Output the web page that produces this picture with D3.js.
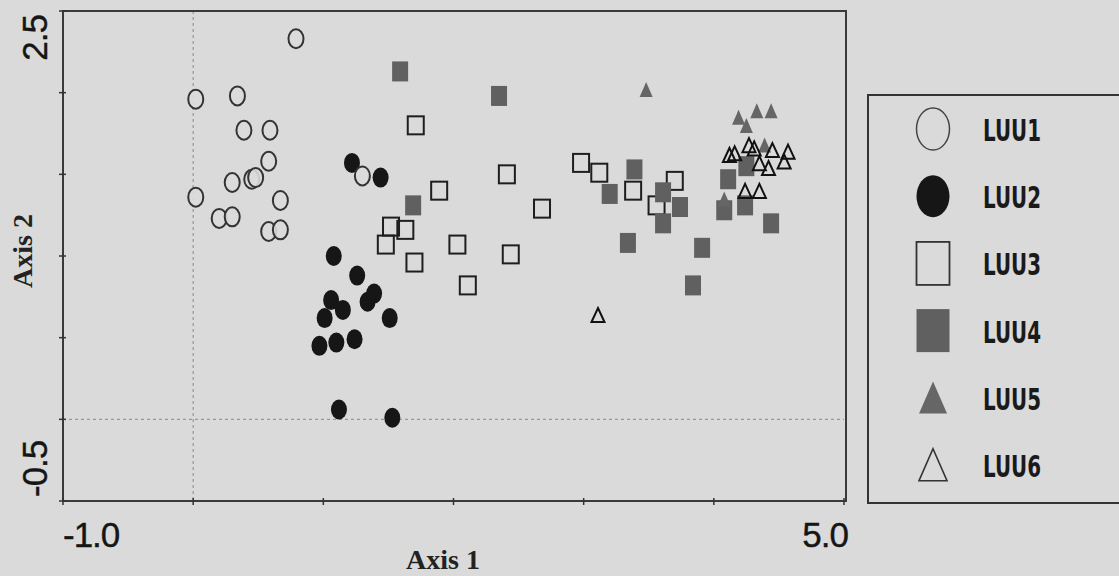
<!DOCTYPE html>
<html>
<head>
<meta charset="utf-8">
<script src="https://cdn.jsdelivr.net/npm/d3@7"></script>
<style>
  body { margin: 0; background: #dadada; }
  svg { display: block; }
</style>
</head>
<body>
<script>
// ordination scores, [axis1, axis2]
var luu1 = [[0.79,2.33],[0.02,1.96],[0.34,1.98],[0.39,1.77],[0.59,1.77],[0.58,1.58],
            [0.45,1.47],[0.48,1.48],[0.30,1.45],[0.02,1.36],[0.20,1.23],[0.30,1.24],
            [0.67,1.34],[0.58,1.15],[0.67,1.16],[1.30,1.49]];
var luu2 = [[1.22,1.57],[1.44,1.48],[1.08,1.00],[1.26,0.88],[1.06,0.73],[1.15,0.67],
            [1.01,0.62],[1.34,0.72],[1.39,0.77],[1.51,0.62],[0.97,0.45],[1.10,0.47],
            [1.24,0.49],[1.12,0.06],[1.53,0.01]];
var luu3 = [[1.89,1.40],[1.52,1.18],[1.63,1.16],[1.48,1.07],[1.70,0.96],[1.71,1.80],
            [2.41,1.50],[2.68,1.29],[2.03,1.07],[2.44,1.01],[2.11,0.82],[2.98,1.57],
            [3.12,1.51],[3.38,1.40],[3.70,1.46],[3.56,1.31]];
var luu4 = [[1.59,2.13],[2.35,1.98],[1.69,1.31],[3.39,1.53],[3.20,1.38],[3.61,1.39],
            [3.74,1.30],[3.61,1.20],[3.34,1.08],[3.91,1.05],[3.84,0.82],[4.11,1.47],
            [4.25,1.55],[4.08,1.28],[4.24,1.31],[4.44,1.20]];
var luu5 = [[3.48,2.01],[4.19,1.84],[4.33,1.88],[4.44,1.88],[4.25,1.79],[4.39,1.67],
            [4.08,1.34]];
var luu6 = [[4.12,1.61],[4.16,1.62],[4.27,1.67],[4.31,1.65],[4.45,1.64],[4.57,1.63],
            [4.54,1.57],[4.35,1.56],[4.42,1.53],[4.24,1.39],[4.35,1.39],[3.11,0.63]];

var groupNames = ["LUU1", "LUU2", "LUU3", "LUU4", "LUU5", "LUU6"];
var xTicks = [-1, 0, 1, 2, 3, 4, 5];
var yTicks = [-0.5, 0, 0.5, 1, 1.5, 2, 2.5];
var xTickLabels = ["-1.0", "5.0"];
var yTickLabels = ["-0.5", "2.5"];

var width = 1119, height = 576;
var bg = "#dadada";

var svg = d3.select("body").append("svg")
    .attr("width", width)
    .attr("height", height);

svg.append("rect")
    .attr("width", width).attr("height", height)
    .attr("fill", bg);

var x = d3.scaleLinear().domain([-1, 5]).range([63, 844]);
var y = d3.scaleLinear().domain([-0.5, 2.5]).range([501, 11]);

/*
 * reference lines at zero
 */
svg.append("line")
    .attr("x1", x(0)).attr("x2", x(0))
    .attr("y1", y(2.5)).attr("y2", y(-0.5))
    .style("stroke", "#8a8a8a").style("stroke-width", 1)
    .style("stroke-dasharray", "3,3");
svg.append("line")
    .attr("x1", x(-1)).attr("x2", x(5))
    .attr("y1", y(0)).attr("y2", y(0))
    .style("stroke", "#8a8a8a").style("stroke-width", 1)
    .style("stroke-dasharray", "3,3");

// frame
svg.append("rect")
    .attr("x", x(-1)).attr("y", y(2.5))
    .attr("width", x(5) - x(-1) + 2).attr("height", y(-0.5) - y(2.5))
    .attr("fill", "none")
    .style("stroke", "#3a3a3a").style("stroke-width", 2);

// small cross ticks
svg.selectAll("line.xtick")
    .data(xTicks)
  .enter().append("line")
    .classed("xtick", true)
    .attr("x1", function(d){ return x(d); })
    .attr("x2", function(d){ return x(d); })
    .attr("y1", y(-0.5) - 3).attr("y2", y(-0.5) + 4)
    .style("stroke", "#333").style("stroke-width", 1.5);
svg.selectAll("line.ytick")
    .data(yTicks)
  .enter().append("line")
    .classed("ytick", true)
    .attr("x1", x(-1) - 4).attr("x2", x(-1) + 3)
    .attr("y1", function(d){ return y(d); })
    .attr("y2", function(d){ return y(d); })
    .style("stroke", "#333").style("stroke-width", 1.5);

/*
 * tick labels and titles
 */
var tickFont = "'Liberation Sans', Arial, sans-serif";
function tickLabel(t){
    return t.style("font-family", tickFont).style("font-size", "35px")
        .style("fill", "#151515").style("letter-spacing", "-1px")
        .style("stroke", "#151515").style("stroke-width", 0.4);
}
tickLabel(svg.append("text")
    .attr("x", x(-1)).attr("y", 547)
    .text(xTickLabels[0]));
tickLabel(svg.append("text")
    .attr("x", x(5) + 4).attr("y", 547)
    .style("text-anchor", "end")
    .text(xTickLabels[1]));
tickLabel(svg.append("text")
    .attr("transform", "translate(47," + (y(-0.5) - 4) + ") rotate(-90)")
    .text(yTickLabels[0]));
tickLabel(svg.append("text")
    .attr("transform", "translate(47," + (y(2.5) + 4) + ") rotate(-90)")
    .style("text-anchor", "end")
    .text(yTickLabels[1]));

var titleFont = "'Liberation Serif', 'Times New Roman', serif";
svg.append("text")
    .attr("x", 443).attr("y", 569)
    .style("font-family", titleFont).style("font-size", "28px").style("font-weight", "bold")
    .style("fill", "#222").style("text-anchor", "middle")
    .text("Axis 1");
svg.append("text")
    .attr("transform", "translate(32,251) rotate(-90)")
    .style("font-family", titleFont).style("font-size", "28px").style("font-weight", "bold")
    .style("fill", "#222").style("text-anchor", "middle")
    .text("Axis 2");

/*
 * markers
 */
function triPath(w, h){
    return "M0," + (-h * 0.6) + "L" + (w / 2) + "," + (h * 0.4) + "L" + (-w / 2) + "," + (h * 0.4) + "Z";
}

var marks = svg.append("g");

marks.selectAll("ellipse.luu2")
    .data(luu2)
  .enter().append("ellipse")
    .attr("cx", function(d){ return x(d[0]); })
    .attr("cy", function(d){ return y(d[1]); })
    .attr("rx", 8).attr("ry", 10)
    .style("fill", "#161616");

marks.selectAll("ellipse.luu1")
    .data(luu1)
  .enter().append("ellipse")
    .attr("cx", function(d){ return x(d[0]); })
    .attr("cy", function(d){ return y(d[1]); })
    .attr("rx", 7.5).attr("ry", 9.5)
    .style("fill", bg)
    .style("fill-opacity", 0.9)
    .style("stroke", "#333").style("stroke-width", 2);

marks.selectAll("rect.luu3")
    .data(luu3)
  .enter().append("rect")
    .attr("x", function(d){ return x(d[0]) - 8; })
    .attr("y", function(d){ return y(d[1]) - 9; })
    .attr("width", 16).attr("height", 18)
    .style("fill", "none")
    .style("stroke", "#1e1e1e").style("stroke-width", 2);

marks.selectAll("rect.luu4")
    .data(luu4)
  .enter().append("rect")
    .attr("x", function(d){ return x(d[0]) - 8; })
    .attr("y", function(d){ return y(d[1]) - 10; })
    .attr("width", 16).attr("height", 20)
    .style("fill", "#606060");

marks.selectAll("path.luu5")
    .data(luu5)
  .enter().append("path")
    .attr("d", triPath(13, 15))
    .attr("transform", function(d){ return "translate(" + x(d[0]) + "," + y(d[1]) + ")"; })
    .style("fill", "#666");

marks.selectAll("path.luu6")
    .data(luu6)
  .enter().append("path")
    .attr("d", triPath(13, 14))
    .attr("transform", function(d){ return "translate(" + x(d[0]) + "," + y(d[1]) + ")"; })
    .style("fill", "none")
    .style("stroke", "#111").style("stroke-width", 2)
    .style("stroke-linejoin", "miter");

/*
 * LEGEND
 */
var legend = svg.append("g");
legend.append("rect")
    .attr("x", 868).attr("y", 95)
    .attr("width", 270).attr("height", 408)
    .attr("fill", "none")
    .style("stroke", "#333").style("stroke-width", 2);

var rowY = d3.scalePoint().domain(groupNames).range([129, 465]);
var lx = 933;

function drawKey(g, name){
    if ( name === "LUU1" || name === "LUU2" ) {
        g.append("ellipse")
            .attr("cx", lx).attr("cy", rowY(name))
            .attr("rx", 16.5).attr("ry", 21)
            .style("fill", name === "LUU1" ? "none" : "#161616")
            .style("stroke", name === "LUU1" ? "#444" : "none")
            .style("stroke-width", 1.5);
    } else if ( name === "LUU3" || name === "LUU4" ) {
        g.append("rect")
            .attr("x", lx - 16.5).attr("y", rowY(name) - 21.5)
            .attr("width", 33).attr("height", 43)
            .style("fill", name === "LUU3" ? "none" : "#606060")
            .style("stroke", name === "LUU3" ? "#333" : "none")
            .style("stroke-width", 1.8);
    } else {
        g.append("path")
            .attr("d", triPath(28, 32))
            .attr("transform", "translate(" + lx + "," + (rowY(name) + 3) + ")")
            .style("fill", name === "LUU5" ? "#666" : "none")
            .style("stroke", name === "LUU5" ? "none" : "#333")
            .style("stroke-width", 1.6);
    }
    g.append("text")
        .attr("x", 983).attr("y", rowY(name) + 12)
        .attr("textLength", 58).attr("lengthAdjust", "spacingAndGlyphs")
        .style("font-family", "'DejaVu Sans', sans-serif")
        .style("font-size", "30px")
        .style("font-weight", "bold")
        .style("fill", "#1a1a1a")
        .text(name);
}

groupNames.forEach(function(name){
    drawKey(legend.append("g"), name);
});
</script>
</body>
</html>
